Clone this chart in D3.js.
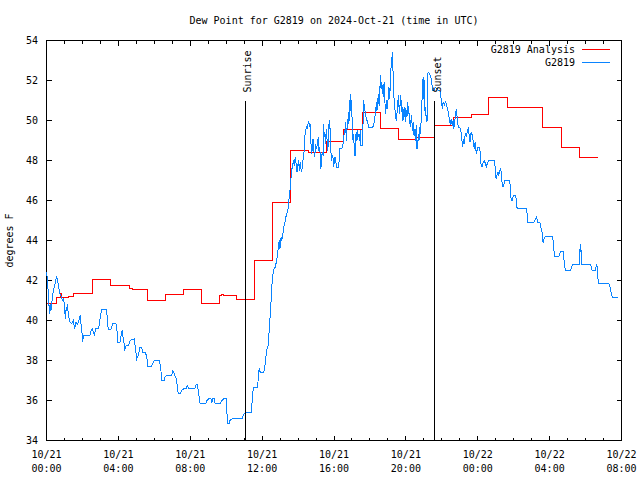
<!DOCTYPE html>
<html>
<head>
<meta charset="utf-8">
<script src="https://cdn.jsdelivr.net/npm/d3@7/dist/d3.min.js"></script>
<style>
html,body{margin:0;padding:0;background:#fff;}
svg{display:block;}
text{font-family:"DejaVu Sans Mono","Liberation Mono",monospace;font-size:10px;fill:#000;}
</style>
</head>
<body>
<svg id="chart" width="640" height="480"></svg>
<script>
const chartTitle = "Dew Point for G2819 on 2024-Oct-21 (time in UTC)";
const yAxisLabel = "degrees F";
const seriesNames = ["G2819 Analysis", "G2819"];
const seriesColors = ["#ff0000", "#0a84ff"];
const timeStart = "2024-10-21T00:00:00Z";
const timeEnd = "2024-10-22T08:00:00Z";
const yTickValues = [34, 36, 38, 40, 42, 44, 46, 48, 50, 52, 54];
const sunEvents = ["Sunrise", "Sunset"];
const sunEventHours = [11.06, 21.62];

// Analysis (hours since start, degrees F)
const analysisHours = [
0.0,0.57,0.79,0.85,1.21,1.49,2.57,3.58,4.61,4.80,
5.62,6.62,7.62,8.62,9.61,9.75,9.85,10.6,11.6,12.6,
13.6,14.6,15.6,16.55,17.58,18.6,19.6,20.6,21.62,22.63,
23.63,24.62,25.64,27.62,28.65,29.68,30.7];
const analysisDewPoint = [
40.83,41.13,41.33,41.13,41.22,41.33,42.03,41.75,41.6,41.53,
41.0,41.28,41.55,40.83,41.25,41.32,41.25,41.05,43.0,45.88,
48.5,48.42,48.95,49.53,50.42,49.58,49.03,49.17,49.75,50.13,
50.28,51.13,50.63,49.63,48.63,48.13,48.13];

// Observations (hours since start, degrees F)
const obsHours = [
0.01,0.10,0.16,0.20,0.25,0.31,0.38,0.46,0.53,0.57,
0.62,0.68,0.75,0.83,0.88,0.94,0.99,1.05,1.09,1.12,
1.16,1.22,1.31,1.40,1.49,1.57,1.64,1.72,1.77,1.83,
1.88,1.92,1.98,2.02,2.05,2.42,2.48,2.55,2.61,2.66,
2.74,2.89,2.94,3.02,3.07,3.35,3.39,3.44,3.57,3.63,
3.69,3.87,3.93,3.96,4.09,4.15,4.21,4.24,4.32,4.35,
4.43,4.56,4.65,4.89,4.95,5.02,5.10,5.21,5.30,5.36,
5.49,5.58,5.64,5.82,5.90,5.99,6.29,6.36,6.42,6.55,
6.60,6.69,6.97,7.03,7.08,7.14,7.20,7.25,7.33,7.44,
7.53,7.62,7.77,7.83,7.92,8.24,8.31,8.37,8.42,8.50,
8.55,8.87,8.92,9.02,9.15,9.20,9.26,9.33,9.39,9.67,
9.76,9.85,10.00,10.04,10.09,10.17,10.22,10.32,10.87,10.93,
11.00,11.06,
11.39,11.43,11.47,11.52,11.75,11.80,11.84,11.89,12.08,12.14,
12.21,12.27,12.32,12.36,12.40,12.43,12.47,12.51,12.54,12.58,
12.66,12.73,12.79,12.84,12.88,12.92,12.95,12.99,13.03,13.06,
13.10,13.14,13.18,13.21,13.25,13.29,13.32,13.38,13.44,13.47,
13.51,13.55,13.58,13.62,13.66,13.70,13.75,13.79,13.84,13.88,
13.94,13.97,14.03,14.07,14.12,14.18,14.22,14.25,14.31,14.35,
14.38,14.42,14.48,14.51,14.55,14.59,14.64,14.68,14.72,14.75,
14.79,14.83,14.87,14.90,14.94,14.98,15.01,15.05,15.09,15.13,
15.16,15.20,15.24,15.27,15.31,15.35,15.39,15.42,15.46,15.50,
15.53,15.57,15.61,15.65,15.68,15.72,15.76,15.79,15.83,15.87,
15.91,15.94,15.98,16.02,16.05,16.09,16.13,16.26,16.30,16.33,
16.44,
16.50,16.54,16.57,16.61,16.65,16.69,16.72,16.76,16.80,16.83,
16.87,16.91,16.95,16.98,17.02,17.06,17.09,17.13,17.17,17.20,
17.24,17.28,17.32,17.35,17.39,17.43,17.47,17.50,17.56,17.61,
17.65,17.69,17.74,17.80,17.87,17.93,18.12,18.21,18.26,18.32,
18.36,18.39,18.43,18.47,18.51,18.54,18.58,18.62,18.65,18.69,
18.73,18.77,18.80,18.84,18.88,18.91,18.95,18.99,19.03,19.06,
19.10,19.14,19.17,19.21,19.25,19.29,19.32,19.36,19.40,19.43,
19.47,19.51,19.54,19.58,19.62,19.66,19.69,19.73,19.77,19.81,
19.84,19.88,19.92,19.95,19.99,20.03,20.07,20.10,20.14,20.18,
20.21,20.25,20.29,20.32,20.36,20.40,20.44,20.47,20.51,20.55,
20.58,20.62,20.66,20.70,20.73,20.77,20.81,20.84,20.88,20.92,
20.96,20.99,21.03,21.07,21.10,21.14,21.18,21.21,21.25,21.33,
21.36,
21.42,21.46,21.51,21.59,21.64,21.74,21.83,21.88,21.92,21.96,
22.00,22.03,22.07,22.11,22.14,22.20,22.26,22.29,22.33,22.37,
22.40,22.44,22.48,22.52,22.55,22.59,22.63,22.66,22.70,22.76,
22.81,22.85,22.89,22.94,23.00,23.04,23.09,23.13,23.17,23.20,
23.24,23.28,23.31,23.37,23.41,23.44,23.48,23.52,23.56,23.59,
23.63,23.67,23.70,23.74,23.78,23.82,23.85,23.89,23.93,23.96,
24.00,24.11,24.15,24.19,24.24,24.30,24.37,24.43,24.48,24.56,
24.61,24.93,24.99,25.02,25.06,25.10,25.13,25.17,25.23,25.28,
25.32,25.36,25.41,25.45,25.49,25.78,25.82,25.86,25.91,25.95,
26.01,26.10,26.16,26.19,26.71,26.75,26.79,27.12,
27.21,27.27,27.31,27.34,27.46,27.51,27.57,27.60,27.64,27.68,
27.72,27.81,28.16,28.20,28.24,28.27,28.51,28.57,28.61,28.76,
28.79,28.83,28.87,29.16,29.22,29.28,29.65,29.68,29.70,29.72,
29.74,29.76,29.80,30.28,30.32,30.37,30.56,30.59,30.63,30.67,
30.71,31.30,31.36,31.39,31.45,31.50,31.80];
const obsDewPoint = [
42.42,41.42,40.33,40.83,40.5,41.0,41.5,41.75,42.08,42.17,
42.0,41.67,41.33,41.17,41.0,41.08,40.83,40.08,40.58,40.5,
40.83,40.25,39.92,39.83,40.0,39.58,39.92,39.83,39.92,40.08,
40.25,39.83,39.33,38.92,39.25,39.25,39.5,39.58,39.42,39.25,
39.58,39.58,39.83,40.33,40.53,40.53,39.92,39.53,39.53,39.7,
39.83,39.83,39.42,38.92,38.92,39.25,39.5,39.25,38.83,38.5,
38.75,38.75,39.0,39.08,38.58,38.08,38.25,38.67,38.63,38.42,
38.42,38.2,37.7,37.7,37.83,38.0,38.0,37.58,37.0,37.0,
37.17,37.25,37.25,37.5,37.42,37.25,37.17,36.92,36.33,36.33,
36.5,36.58,36.58,36.75,36.58,36.58,36.75,36.83,36.67,36.17,
35.83,35.83,36.0,36.08,36.08,35.92,36.08,36.08,35.83,35.83,
36.0,36.08,36.08,35.42,34.83,34.83,35.03,35.08,35.08,35.2,
35.33,35.4,
35.38,35.75,36.33,36.67,36.67,37.33,37.62,37.42,37.42,37.58,
38.17,38.58,38.63,39.17,39.5,40.0,40.5,41.17,41.67,42.17,
42.58,42.67,42.92,43.17,43.5,43.83,44.0,43.58,44.0,44.17,
44.0,44.33,44.42,44.67,44.83,45.0,45.17,45.33,45.58,45.83,
46.17,46.5,47.0,47.17,47.58,47.83,48.0,47.75,48.17,47.92,
47.42,47.67,48.0,47.5,47.92,47.42,47.58,47.92,48.17,48.67,
49.25,49.5,49.67,49.58,49.83,49.92,49.75,49.83,48.83,48.33,
48.58,49.08,48.75,48.17,48.33,48.83,48.58,48.67,48.92,49.17,
48.5,48.67,48.25,47.58,48.17,48.42,48.25,49.83,49.17,49.33,
48.83,49.58,49.08,48.5,48.83,49.83,50.0,49.33,48.42,48.0,
48.25,48.17,47.67,47.92,48.17,48.08,47.67,47.67,48.25,48.58,
48.58,
48.83,49.0,49.5,49.33,49.92,49.0,49.58,49.75,50.42,49.83,
50.67,51.33,50.42,51.0,49.5,49.0,49.33,48.58,48.25,49.17,
49.42,49.0,49.5,49.17,49.33,49.0,49.5,48.75,48.75,49.67,
51.0,50.67,50.42,50.08,49.92,49.63,49.63,49.75,50.08,50.5,
50.92,50.5,50.92,51.33,50.75,51.17,52.25,51.58,51.92,51.33,
51.83,51.17,51.92,50.83,50.33,51.0,50.58,50.92,51.17,51.67,
51.08,51.92,52.58,53.0,53.42,52.33,51.42,50.83,50.5,50.17,
50.0,50.42,50.75,51.25,50.67,50.33,51.25,51.0,50.42,50.67,
50.0,50.58,50.17,50.67,49.92,50.5,50.25,50.92,50.5,50.33,
50.0,49.67,50.08,50.25,49.5,49.92,49.33,49.25,49.58,49.0,
49.75,48.58,48.83,49.33,49.0,49.67,49.33,49.83,50.67,51.5,
52.17,51.08,52.0,50.25,50.67,49.92,50.0,52.33,52.42,52.33,
52.17,
52.08,51.75,51.5,51.5,51.67,51.58,51.5,51.5,51.42,51.08,
50.83,50.58,50.92,50.92,50.75,50.92,50.83,50.67,50.58,50.25,
50.17,49.92,49.83,50.08,49.92,49.75,50.0,49.58,49.83,50.25,
50.58,50.17,49.83,49.67,49.67,49.5,49.33,48.92,48.67,49.08,
48.83,49.17,49.33,49.25,49.42,49.5,49.67,49.25,48.92,49.0,
49.42,49.33,49.25,49.0,48.75,48.58,48.92,48.58,48.33,48.5,
48.67,48.67,48.17,47.75,47.67,47.92,48.0,47.83,47.7,47.92,
48.0,48.0,47.5,47.08,47.25,47.33,47.42,47.25,47.5,47.58,
47.25,46.83,46.67,46.75,47.0,47.0,46.58,46.0,46.0,46.17,
46.25,46.25,46.0,45.58,45.58,45.33,44.92,44.92,
45.08,45.17,45.0,44.88,44.88,44.67,44.5,44.17,43.88,44.05,
44.17,44.2,44.2,43.97,43.5,43.22,43.22,43.33,43.47,43.47,
43.08,42.92,42.5,42.5,42.67,42.78,42.78,43.3,43.8,43.67,
43.42,43.53,42.78,42.78,42.67,42.5,42.5,42.75,42.8,42.42,
41.83,41.83,41.67,41.5,41.3,41.13,41.13];

const svg = d3.select("#chart");
const t0 = new Date(timeStart), t1 = new Date(timeEnd);
const hourToDate = h => new Date(t0.getTime() + h * 3600000);
const L = 46.5, R = 621.5, T = 40.5, B = 440.5;
const x = d3.scaleUtc().domain([t0, t1]).range([L, R]);
const y = d3.scaleLinear().domain([34, 54]).range([B, T]);

const analysis = analysisHours.map((h, i) => ({t: hourToDate(h), v: analysisDewPoint[i]}));
const obs = obsHours.map((h, i) => ({t: hourToDate(h), v: obsDewPoint[i]}));

// Title
svg.append("text").attr("x", (L + R) / 2).attr("y", 24).attr("text-anchor", "middle").text(chartTitle);

// Y label
svg.append("text").attr("transform", `translate(13,${(T + B) / 2}) rotate(-90)`)
  .attr("text-anchor", "middle").text(yAxisLabel);

function styleAxis(g) {
  g.select(".domain").remove();
  g.attr("font-family", null).attr("font-size", null);
  g.selectAll("line").attr("shape-rendering", "crispEdges").attr("stroke", "#000");
}

// Bottom major with two-line labels
const fmtDate = d3.utcFormat("%m/%d"), fmtTime = d3.utcFormat("%H:%M");
const gxB = svg.append("g").attr("transform", `translate(0,${B})`)
  .call(d3.axisBottom(x).ticks(d3.utcHour.every(4)).tickSize(-5).tickPadding(0).offset(0).tickFormat(() => ""))
  .call(styleAxis);
gxB.selectAll(".tick text").each(function(d) {
  const t = d3.select(this).attr("y", null).attr("dy", null).text(null);
  t.append("tspan").attr("x", 0).attr("y", 17).text(fmtDate(d));
  t.append("tspan").attr("x", 0).attr("y", 31).text(fmtTime(d));
});
// Bottom minor
svg.append("g").attr("transform", `translate(0,${B})`)
  .call(d3.axisBottom(x).ticks(d3.utcHour.every(1)).tickSize(-3).offset(0).tickFormat(() => ""))
  .call(styleAxis);
// Top mirror major/minor
svg.append("g").attr("transform", `translate(0,${T})`)
  .call(d3.axisTop(x).ticks(d3.utcHour.every(4)).tickSize(-5).offset(0).tickFormat(() => ""))
  .call(styleAxis);
svg.append("g").attr("transform", `translate(0,${T})`)
  .call(d3.axisTop(x).ticks(d3.utcHour.every(1)).tickSize(-3).offset(0).tickFormat(() => ""))
  .call(styleAxis);
// Left Y
svg.append("g").attr("transform", `translate(${L},0)`)
  .call(d3.axisLeft(y).tickValues(yTickValues).tickSize(-5).tickPadding(8.5).offset(0).tickFormat(d3.format("d")))
  .call(styleAxis);
// Right mirror
svg.append("g").attr("transform", `translate(${R},0)`)
  .call(d3.axisRight(y).tickValues(yTickValues).tickSize(-5).offset(0).tickFormat(() => ""))
  .call(styleAxis);

// Border
svg.append("rect").attr("x", L).attr("y", T).attr("width", R - L).attr("height", B - T)
  .attr("fill", "none").attr("stroke", "#000").attr("shape-rendering", "crispEdges");

// Data lines
const lineAna = d3.line().x(d => x(d.t)).y(d => y(d.v)).curve(d3.curveStepAfter);
const lineObs = d3.line().x(d => x(d.t)).y(d => y(d.v));
svg.append("path").datum(analysis).attr("d", lineAna).attr("fill", "none")
  .attr("stroke", seriesColors[0]).attr("stroke-width", 1).attr("shape-rendering", "crispEdges");
svg.append("path").datum(obs).attr("d", lineObs).attr("fill", "none")
  .attr("stroke", seriesColors[1]).attr("stroke-width", 1).attr("shape-rendering", "crispEdges");

// Sunrise / Sunset markers
sunEvents.forEach((name, i) => {
  const xs = x(hourToDate(sunEventHours[i]));
  svg.append("line").attr("x1", xs).attr("x2", xs).attr("y1", y(34)).attr("y2", y(51))
    .attr("stroke", "#000").attr("shape-rendering", "crispEdges");
  svg.append("text").attr("transform", `translate(${xs + 6},${y(51.4)}) rotate(-90)`)
    .attr("text-anchor", "start").text(name);
});

// Legend
seriesNames.forEach((name, i) => {
  const ly = 49.5 + i * 13;
  svg.append("text").attr("x", 575).attr("y", ly + 3).attr("text-anchor", "end").text(name);
  svg.append("line").attr("x1", 582).attr("x2", 610).attr("y1", ly).attr("y2", ly)
    .attr("stroke", seriesColors[i]).attr("shape-rendering", "crispEdges");
});
</script>
</body>
</html>
